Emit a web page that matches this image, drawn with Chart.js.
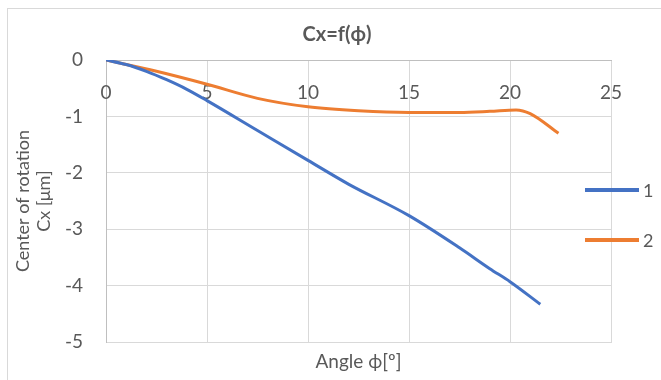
<!DOCTYPE html>
<html>
<head>
<meta charset="utf-8">
<script src="https://cdn.jsdelivr.net/npm/chart.js@4.4.1/dist/chart.umd.min.js"></script>
<style>
  html, body { margin: 0; padding: 0; background: #fff; }
  #wrap { width: 661px; height: 380px; }
</style>
</head>
<body>
<div id="wrap"><canvas id="chart" width="661" height="380"></canvas></div>
<script>
// angle [deg] and Cx [um]
const angle1 = [0, 1, 2, 3, 4, 5, 7.5, 10, 12, 15, 17.5, 19, 20, 21.5];
const cx1 = [0, -0.08, -0.2, -0.35, -0.52, -0.72, -1.25, -1.78, -2.2, -2.76, -3.33, -3.7, -3.93, -4.33];

const angle2 = [0, 2.5, 5, 7.5, 10, 12.5, 15, 17.5, 19, 20.3, 21, 22.4];
const cx2 = [0, -0.2, -0.43, -0.68, -0.83, -0.9, -0.93, -0.93, -0.91, -0.885, -0.95, -1.3];

const seriesNames = ['1', '2'];
const seriesColors = ['#4472c4', '#ed7d31'];

const xTicks = [0, 5, 10, 15, 20, 25];
const yTicks = [0, -1, -2, -3, -4, -5];

const textColor = '#595959';
const gridColor = '#d9d9d9';
const axisColor = '#bfbfbf';

function toPoints(xs, ys) {
    return xs.map((x, i) => ({ x: x, y: ys[i] }));
}

// chart frame and legend, Excel style
const frameAndLegend = {
    id: 'frameAndLegend',
    beforeDraw(chart) {
        const c = chart.ctx;
        c.save();
        c.fillStyle = '#fff';
        c.fillRect(0, 0, chart.width, chart.height);
        c.strokeStyle = gridColor;
        c.lineWidth = 1;
        c.strokeRect(7.5, 8.5, 720, 420);
        c.restore();
    },
    afterDraw(chart) {
        const c = chart.ctx;
        c.save();
        c.font = '18px Lato';
        c.textBaseline = 'middle';
        c.fillStyle = textColor;
        seriesNames.forEach((name, i) => {
            const y = 190 + i * 50;
            c.strokeStyle = seriesColors[i];
            c.lineWidth = 4;
            c.beginPath();
            c.moveTo(585, y);
            c.lineTo(639, y);
            c.stroke();
            c.fillText(name, 643, y + 1);
        });
        c.restore();
    }
};

new Chart(document.getElementById('chart'), {
    type: 'scatter',
    data: {
        datasets: [
            {
                label: seriesNames[0],
                data: toPoints(angle1, cx1),
                borderColor: seriesColors[0],
                backgroundColor: seriesColors[0],
                borderWidth: 3,
                showLine: true,
                pointRadius: 0,
                cubicInterpolationMode: 'monotone'
            },
            {
                label: seriesNames[1],
                data: toPoints(angle2, cx2),
                borderColor: seriesColors[1],
                backgroundColor: seriesColors[1],
                borderWidth: 3,
                showLine: true,
                pointRadius: 0,
                cubicInterpolationMode: 'monotone'
            }
        ]
    },
    options: {
        responsive: false,
        animation: false,
        layout: { padding: { left: 13, right: 0, top: 0, bottom: 0 } },
        plugins: {
            legend: { display: false },
            tooltip: { enabled: false },
            title: {
                display: true,
                text: 'Cx=f(ϕ)',
                color: textColor,
                font: { family: 'Lato', size: 20, weight: 'bold', lineHeight: 1.2 },
                padding: { top: 23, bottom: 13 }
            }
        },
        scales: {
            x: {
                type: 'linear',
                position: 'bottom',
                min: 0,
                max: 25,
                afterBuildTicks: s => { s.ticks = xTicks.map(v => ({ value: v })); },
                afterFit: s => { s.height = 38; },
                ticks: { display: false },
                grid: { color: gridColor, drawTicks: false },
                border: { color: gridColor },
                title: {
                    display: true,
                    text: 'Angle ϕ[º]',
                    color: textColor,
                    font: { family: 'Lato', size: 19, lineHeight: 1.2 },
                    padding: { top: 0, bottom: 7 }
                }
            },
            y: {
                type: 'linear',
                position: 'left',
                min: -5,
                max: 0,
                afterBuildTicks: s => { s.ticks = yTicks.map(v => ({ value: v })); },
                afterFit: s => { s.width = 93; },
                ticks: {
                    color: textColor,
                    font: { family: 'Lato', size: 19 },
                    padding: 23
                },
                grid: { color: gridColor, drawTicks: false },
                border: { color: axisColor },
                title: {
                    display: true,
                    text: ['Center of rotation', 'Cx [μm]'],
                    color: textColor,
                    font: { family: 'Lato', size: 18, lineHeight: 1.15 },
                    padding: { top: 0, bottom: 0 }
                }
            },
            xTop: {
                type: 'linear',
                position: { y: 0 },
                min: 0,
                max: 25,
                afterBuildTicks: s => { s.ticks = xTicks.map(v => ({ value: v })); },
                ticks: {
                    color: textColor,
                    font: { family: 'Lato', size: 19 },
                    padding: 21
                },
                grid: { display: false, drawTicks: false },
                border: { color: axisColor }
            },
            yRight: {
                type: 'linear',
                position: 'right',
                min: -5,
                max: 0,
                afterFit: s => { s.width = 50; },
                ticks: { display: false },
                grid: { display: false, drawTicks: false },
                border: { display: false }
            }
        }
    },
    plugins: [frameAndLegend]
});
</script>
</body>
</html>
